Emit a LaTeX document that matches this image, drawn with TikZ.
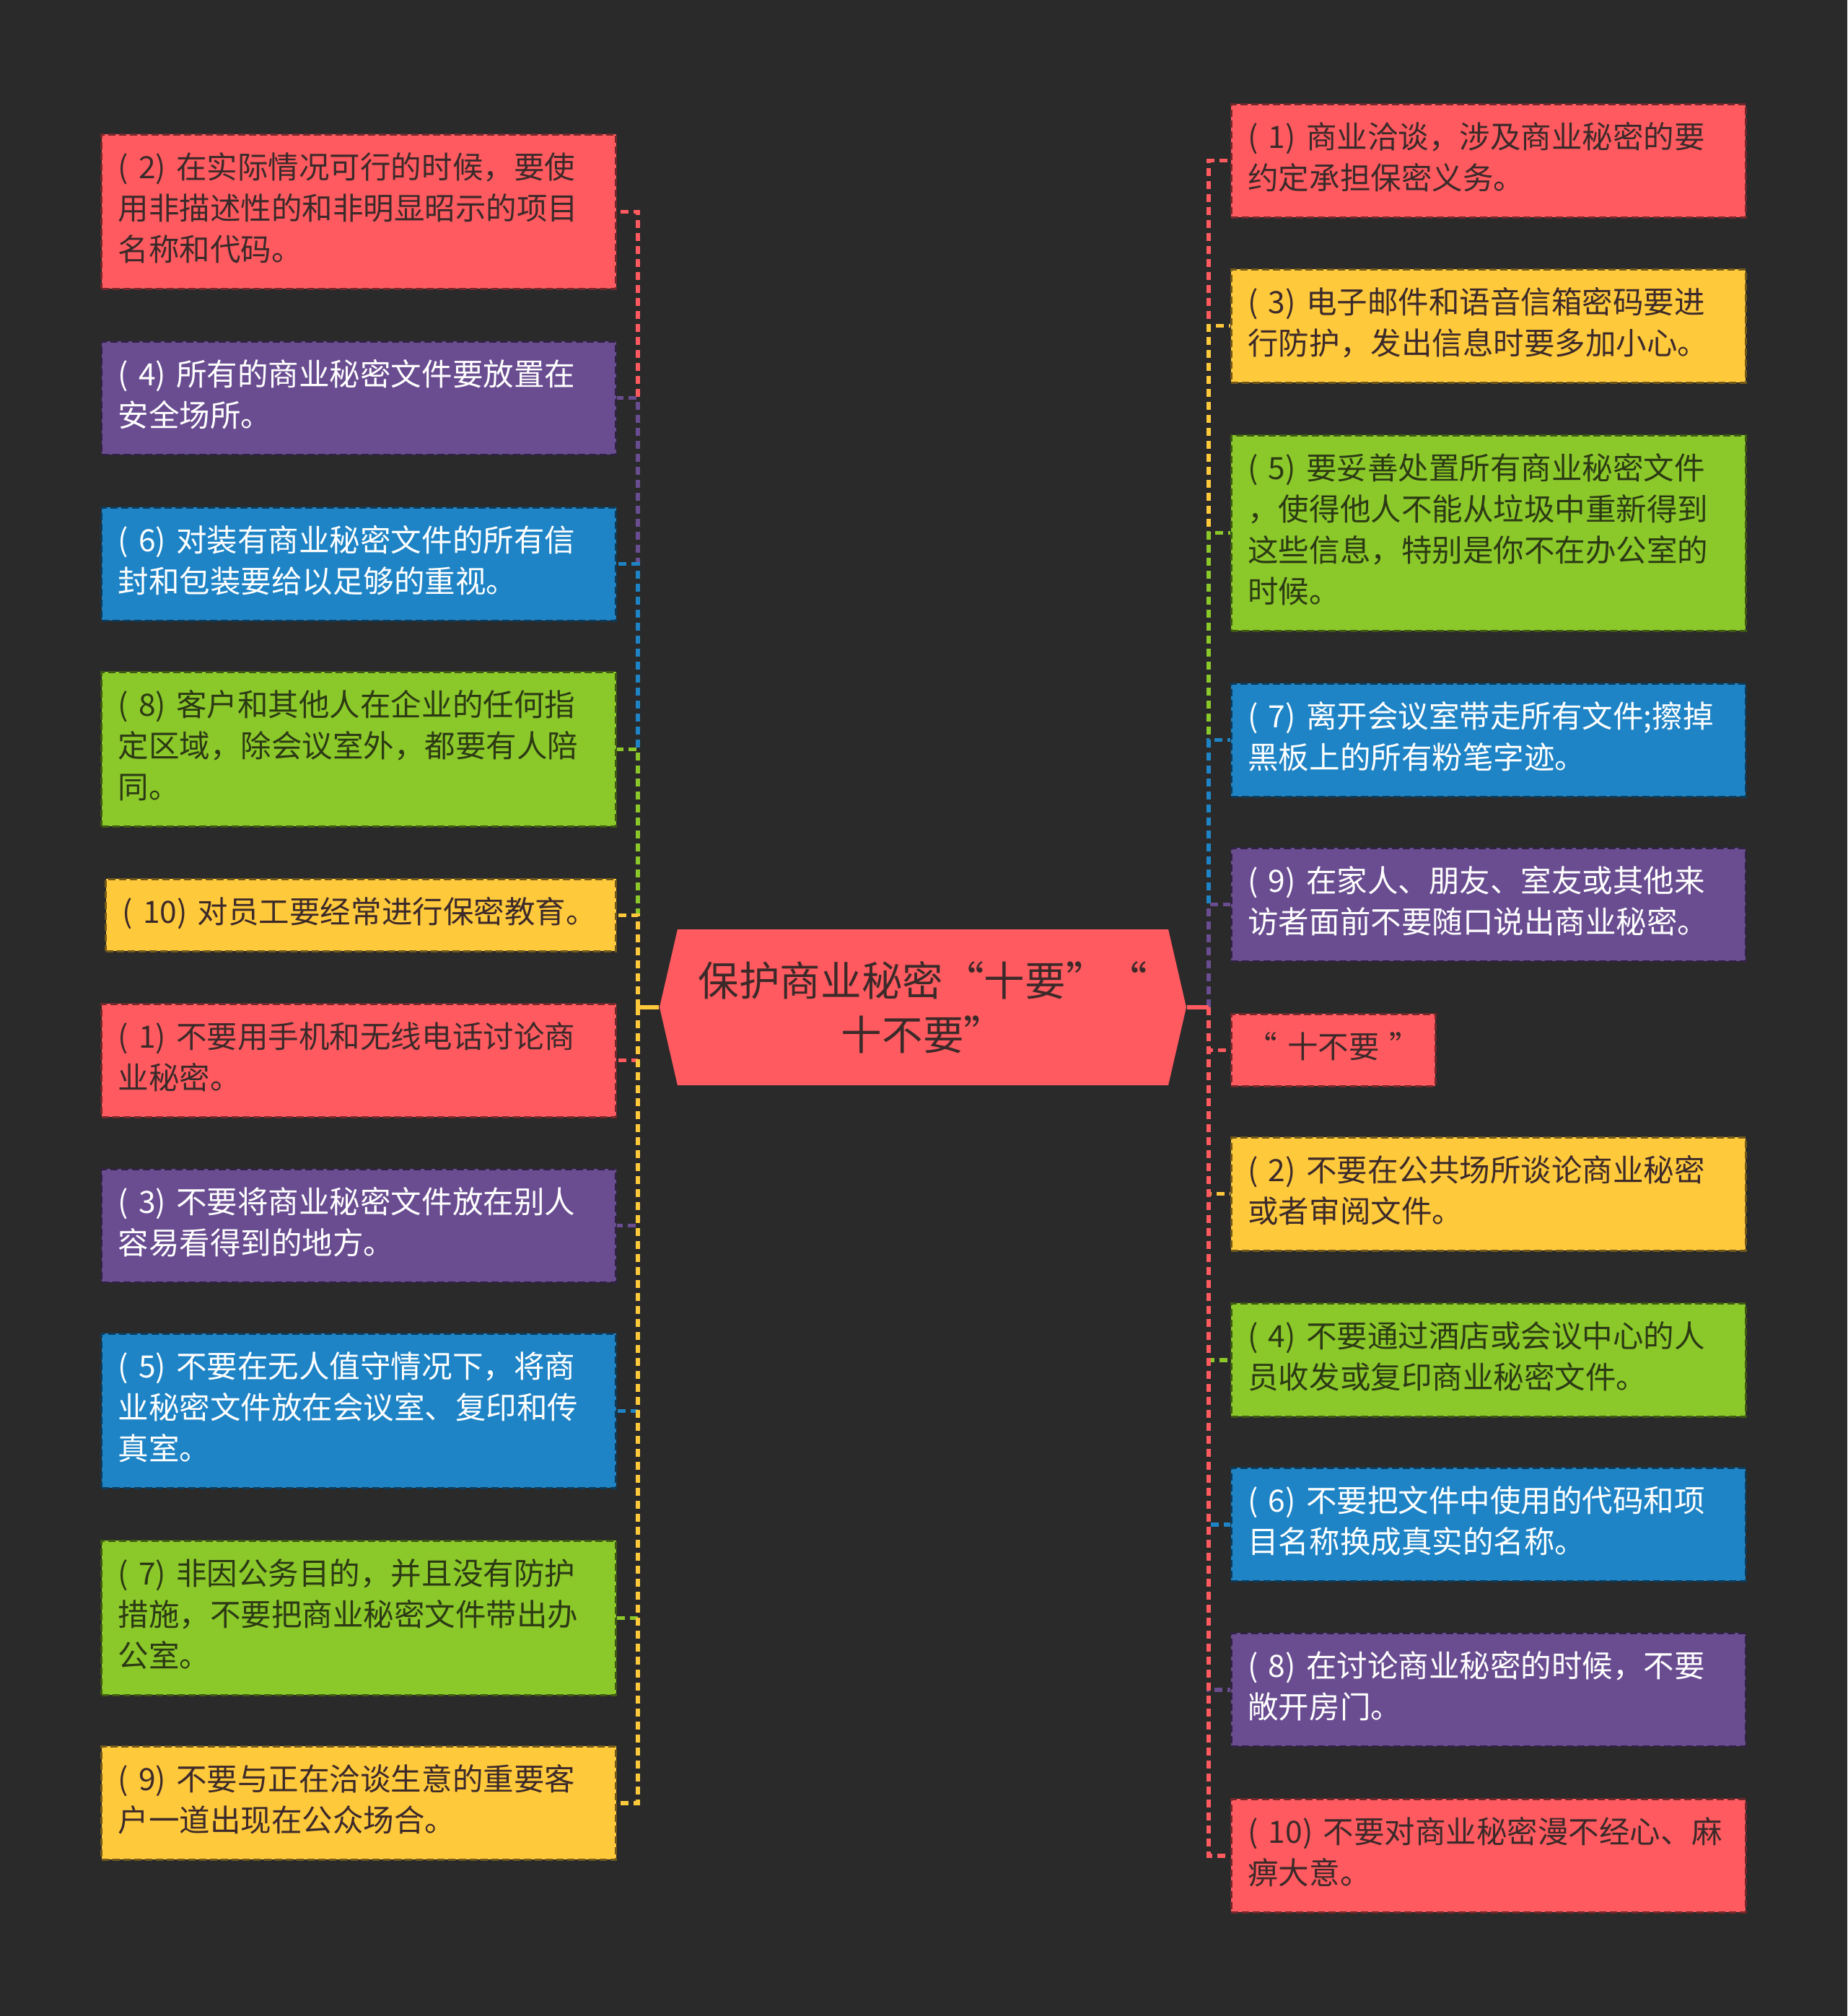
\documentclass[tikz,border=0pt]{standalone}
\usepackage{fontspec}
\usepackage{tikz}
\usetikzlibrary{positioning,shapes.symbols}
\newfontfamily\cjk{Noto Sans CJK SC}
\definecolor{mybg}{RGB}{42,42,42}
\definecolor{myred}{RGB}{255,90,95}
\definecolor{myyellow}{RGB}{255,201,60}
\definecolor{mygreen}{RGB}{139,200,42}
\definecolor{myblue}{RGB}{30,132,198}
\definecolor{mypurple}{RGB}{106,77,145}
\definecolor{darktext}{RGB}{60,42,42}
\definecolor{greentext}{RGB}{44,58,20}
\tikzset{
    item/.style={
        rectangle,
        fill=#1,
        draw=#1!45!black,
        dash pattern=on 0.1cm off 0.05cm,
        line width=0.8pt,
        text width=6.67cm,
        inner xsep=0.23cm,
        inner ysep=0.215cm,
        align=left,
        font=\cjk\fontsize{12.1}{16.2}\selectfont,
        execute at begin node=\strut,
        execute at end node=\strut
    },
    redbox/.style={item=myred, text=darktext},
    yellowbox/.style={item=myyellow, text=darktext},
    greenbox/.style={item=mygreen, text=greentext},
    bluebox/.style={item=myblue, text=white},
    purplebox/.style={item=mypurple, text=white},
    root/.style={
        signal,
        signal to=west and east,
        signal pointer angle=154,
        fill=myred,
        text=darktext,
        minimum width=7.3cm,
        minimum height=2.16cm,
        inner sep=0pt,
        align=center,
        font=\cjk\fontsize{16.1}{21.3}\selectfont
    },
    link/.style={draw=#1, line width=1.5pt, dash pattern=on 0.11cm off 0.07cm},
    hub/.style={draw=#1, line width=1.5pt}
}
\begin{document}
\begin{tikzpicture}

\fill[mybg] (0,0) rectangle (25.6,-27.94);

% root
\node[root] (ctr) at (12.79,-13.96) {保护商业秘密“十要”“\\十不要”};
\coordinate (lj) at (8.84,-13.96);
\coordinate (rj) at (16.75,-13.96);

% left column
\node[redbox, anchor=north east] (do2) at (8.55,-1.85) {( 2) 在实际情况可行的时候，要使\\用非描述性的和非明显昭示的项目\\名称和代码。};
\node[purplebox, anchor=north east] (do4) at (8.55,-4.72) {( 4) 所有的商业秘密文件要放置在\\安全场所。};
\node[bluebox, anchor=north east] (do6) at (8.55,-7.02) {( 6) 对装有商业秘密文件的所有信\\封和包装要给以足够的重视。};
\node[greenbox, anchor=north east] (do8) at (8.55,-9.30) {( 8) 客户和其他人在企业的任何指\\定区域，除会议室外，都要有人陪\\同。};
\node[yellowbox, anchor=north east, text width=6.61cm] (do10) at (8.55,-12.17) {( 10) 对员工要经常进行保密教育。};
\node[redbox, anchor=north east] (no1) at (8.55,-13.90) {( 1) 不要用手机和无线电话讨论商\\业秘密。};
\node[purplebox, anchor=north east] (no3) at (8.55,-16.19) {( 3) 不要将商业秘密文件放在别人\\容易看得到的地方。};
\node[bluebox, anchor=north east] (no5) at (8.55,-18.47) {( 5) 不要在无人值守情况下，将商\\业秘密文件放在会议室、复印和传\\真室。};
\node[greenbox, anchor=north east] (no7) at (8.55,-21.34) {( 7) 非因公务目的，并且没有防护\\措施，不要把商业秘密文件带出办\\公室。};
\node[yellowbox, anchor=north east] (no9) at (8.55,-24.19) {( 9) 不要与正在洽谈生意的重要客\\户一道出现在公众场合。};

% right column
\node[redbox, anchor=north west] (do1) at (17.05,-1.43) {( 1) 商业洽谈，涉及商业秘密的要\\约定承担保密义务。};
\node[yellowbox, anchor=north west] (do3) at (17.05,-3.72) {( 3) 电子邮件和语音信箱密码要进\\行防护，发出信息时要多加小心。};
\node[greenbox, anchor=north west] (do5) at (17.05,-6.02) {( 5) 要妥善处置所有商业秘密文件\\，使得他人不能从垃圾中重新得到\\这些信息，特别是你不在办公室的\\时候。};
\node[bluebox, anchor=north west] (do7) at (17.05,-9.46) {( 7) 离开会议室带走所有文件;擦掉\\黑板上的所有粉笔字迹。};
\node[purplebox, anchor=north west] (do9) at (17.05,-11.74) {( 9) 在家人、朋友、室友或其他来\\访者面前不要随口说出商业秘密。};
\node[redbox, anchor=north west, text width=2.73cm, inner xsep=0.05cm, align=center] (head) at (17.05,-14.04) {“ 十不要 ”};
\node[yellowbox, anchor=north west] (no2) at (17.05,-15.75) {( 2) 不要在公共场所谈论商业秘密\\或者审阅文件。};
\node[greenbox, anchor=north west] (no4) at (17.05,-18.05) {( 4) 不要通过酒店或会议中心的人\\员收发或复印商业秘密文件。};
\node[bluebox, anchor=north west] (no6) at (17.05,-20.33) {( 6) 不要把文件中使用的代码和项\\目名称换成真实的名称。};
\node[purplebox, anchor=north west] (no8) at (17.05,-22.62) {( 8) 在讨论商业秘密的时候，不要\\敞开房门。};
\node[redbox, anchor=north west] (no10) at (17.05,-24.92) {( 10) 不要对商业秘密漫不经心、麻\\痹大意。};

% links
\foreach \n/\c in {do2/myred,do4/mypurple,do6/myblue,do8/mygreen,do10/myyellow,
                   no1/myred,no3/mypurple,no5/myblue,no7/mygreen,no9/myyellow}{
    \draw[hub=\c] (ctr.west) -- (lj);
    \draw[link=\c] (lj) |- (\n.east);
}
\foreach \n/\c in {do1/myred,do3/myyellow,do5/mygreen,do7/myblue,do9/mypurple,head/myred,
                   no2/myyellow,no4/mygreen,no6/myblue,no8/mypurple,no10/myred}{
    \draw[hub=\c] (ctr.east) -- (rj);
    \draw[link=\c] (rj) |- (\n.west);
}

\end{tikzpicture}
\end{document}
